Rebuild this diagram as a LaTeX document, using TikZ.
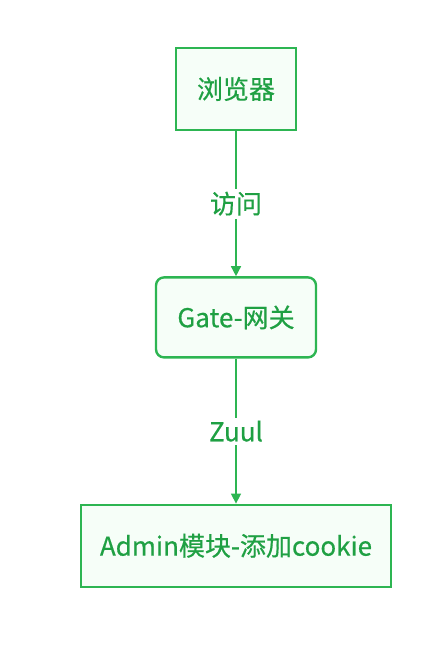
\documentclass[tikz,border=0pt]{standalone}
\usepackage{fontspec}
\setmainfont{Noto Sans CJK SC}
\newfontfamily\flowfont[FakeBold=0.5]{Noto Sans CJK SC}
\usetikzlibrary{positioning, arrows.meta}
\definecolor{flowline}{HTML}{2DB552}
\definecolor{flowtext}{HTML}{1FA043}
\definecolor{flowfill}{HTML}{F6FEF8}
\tikzset{
    >={Triangle[length=10pt, width=10pt]}, % filled arrow heads
    every node/.style={text=flowtext, font=\flowfont\fontsize{26pt}{30pt}\selectfont},
    box/.style={draw=flowline, fill=flowfill, line width=2.4pt, minimum height=82pt, inner sep=0pt}, % plain boxes
    roundbox/.style={box, rounded corners=8pt}, % the gateway box
    edgelabel/.style={fill=white, inner sep=3pt}, % text on the edges
    node distance=145pt, % gap between the boxes
}
\begin{document}
\begin{tikzpicture}
    \useasboundingbox (0,0) rectangle (438pt,668pt);
    \node[box, minimum width=120pt] (browser) at (236pt,579pt) {浏览器};
    \node[roundbox, minimum width=160pt, minimum height=80pt, below=of browser] (gate) {Gate-网关};
    \node[box, minimum width=310pt, below=of gate] (admin) {Admin模块-添加cookie};
    \draw[->, flowline, line width=1.5pt] (browser) -- node[edgelabel]{访问} (gate);
    \draw[->, flowline, line width=1.5pt] (gate) -- node[edgelabel]{Zuul} (admin);
\end{tikzpicture}
\end{document}
